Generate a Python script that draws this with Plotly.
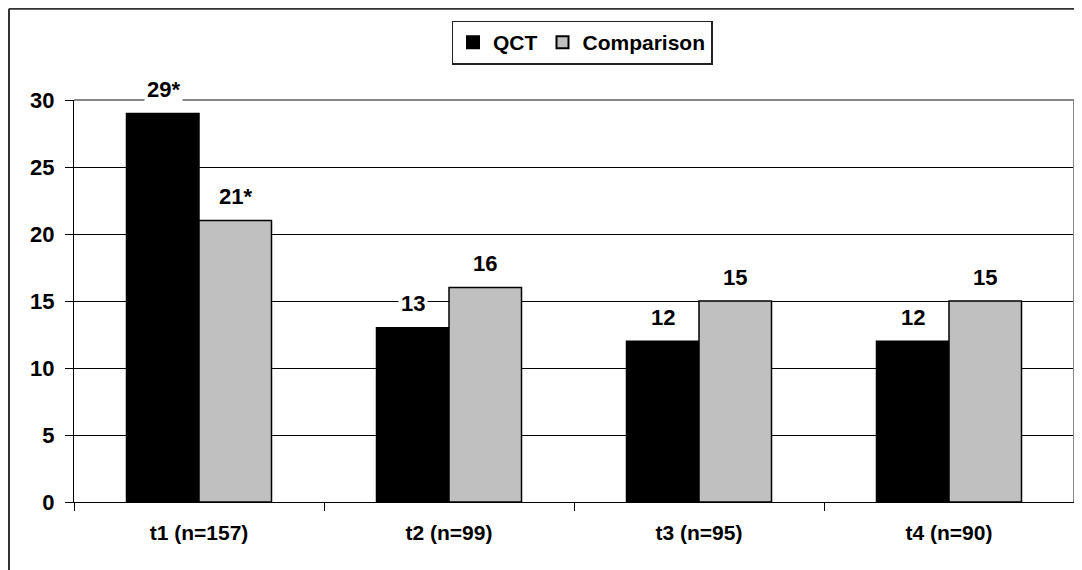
import plotly.graph_objects as go

categories = ["t1 (n=157)", "t2 (n=99)", "t3 (n=95)", "t4 (n=90)"]
qct = [29, 13, 12, 12]
comparison = [21, 16, 15, 15]
qct_labels = ["29*", "13", "12", "12"]
comparison_labels = ["21*", "16", "15", "15"]
y_ticks = [0, 5, 10, 15, 20, 25, 30]

FONT = "Liberation Sans, Arial, sans-serif"

fig = go.Figure()
fig.add_trace(go.Bar(name="<b>QCT</b>", x=categories, y=qct,
                     marker=dict(color="#000000", line=dict(color="#000000", width=1.5))))
fig.add_trace(go.Bar(name="<b>Comparison</b>", x=categories, y=comparison,
                     marker=dict(color="#C0C0C0", line=dict(color="#000000", width=1.5))))

annotations = []
for cat, v, lab in zip(categories, qct, qct_labels):
    annotations.append(dict(x=cat, y=v, text="<b>%s</b>" % lab, xref="x", yref="y",
                            xshift=-36, yshift=24, yanchor="middle", showarrow=False,
                            bgcolor="white", borderpad=2,
                            font=dict(family=FONT, size=22, color="black")))
for cat, v, lab in zip(categories, comparison, comparison_labels):
    annotations.append(dict(x=cat, y=v, text="<b>%s</b>" % lab, xref="x", yref="y",
                            xshift=36, yshift=24, yanchor="middle", showarrow=False,
                            bgcolor="white", borderpad=2,
                            font=dict(family=FONT, size=22, color="black")))

shapes = [
    # plot frame top and right (gray)
    dict(type="line", xref="paper", yref="paper", x0=0, x1=1, y0=1, y1=1,
         line=dict(color="#888888", width=2)),
    dict(type="line", xref="paper", yref="paper", x0=1, x1=1, y0=0, y1=1,
         line=dict(color="#888888", width=2)),
    # outer chart border (left and top)
    dict(type="line", xref="paper", yref="paper", x0=-0.065, x1=-0.065, y0=-0.2, y1=1.227,
         line=dict(color="#333333", width=2)),
    dict(type="line", xref="paper", yref="paper", x0=-0.065, x1=1.02, y0=1.227, y1=1.227,
         line=dict(color="#333333", width=2)),
]

fig.update_layout(
    width=1074, height=562,
    margin=dict(l=66, r=8, t=92, b=68),
    paper_bgcolor="white", plot_bgcolor="white",
    barmode="group", bargap=0.42, bargroupgap=0,
    font=dict(family=FONT, size=22, color="black"),
    legend=dict(orientation="h", x=0.508, xanchor="center", y=1.143, yanchor="middle",
                bordercolor="#222222", borderwidth=1.5, bgcolor="white",
                font=dict(family=FONT, size=21, color="black"),
                tracegroupgap=0, itemsizing="constant", itemwidth=30),
    annotations=annotations,
    shapes=shapes,
    showlegend=True,
)

fig.update_xaxes(showline=True, linecolor="black", linewidth=1,
                 ticks="outside", tickson="boundaries", ticklen=8, tickcolor="black",
                 tickfont=dict(family=FONT, size=21, color="black", weight="bold"),
                 ticklabelstandoff=12, showgrid=False)
fig.update_yaxes(range=[0, 30], tickvals=y_ticks, showline=True, linecolor="black", linewidth=1,
                 ticks="outside", ticklen=8, tickcolor="black",
                 showgrid=True, gridcolor="black", gridwidth=1,
                 tickfont=dict(family=FONT, size=22, color="black", weight="bold"),
                 ticklabelstandoff=6, zeroline=False)

fig.write_html("out.html")
